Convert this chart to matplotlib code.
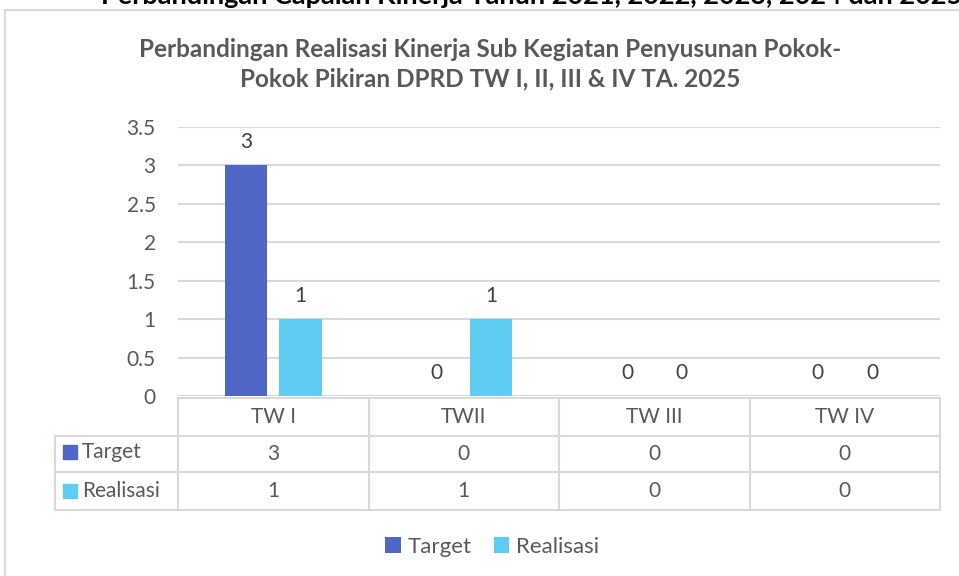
import matplotlib
matplotlib.use('Agg')
import matplotlib.pyplot as plt
import matplotlib.transforms as mtransforms
from matplotlib.patches import Rectangle
import numpy as np

plt.rcParams['font.family'] = ['Lato', 'DejaVu Sans']

# data
categories = ['TW I', 'TWII', 'TW III', 'TW IV']
series_names = ['Target', 'Realisasi']
target = [3, 0, 0, 0]
realisasi = [1, 1, 0, 0]
yticks = [0, 0.5, 1, 1.5, 2, 2.5, 3, 3.5]
ytick_labels = ['0', '0.5', '1', '1.5', '2', '2.5', '3', '3.5']

title = 'Perbandingan Realisasi Kinerja Sub Kegiatan Penyusunan Pokok-\nPokok Pikiran DPRD TW I, II, III & IV TA. 2025'
top_title = 'Perbandingan Capaian Kinerja Tahun 2021, 2022, 2023, 2024 dan 2025'

c_target = '#4f66c6'
c_real = '#5fcdf3'
grid_c = '#d9d9d9'
txt_c = '#595959'
lbl_c = '#404040'
fs = 15

W, H = 959, 576
fig = plt.figure(figsize=(W / 100, H / 100), dpi=100)
fig.patch.set_facecolor('white')

# chart area frame (cut off at the right/bottom)
fig.patches.append(Rectangle((5 / W, -0.1), 1.2, 1 - 10 / H + 0.1, transform=fig.transFigure,
                             fill=False, edgecolor=grid_c, linewidth=1.5))

fig.text(101 / W, 1 - 4 / H, top_title, fontsize=19.5, fontweight='bold', color='black',
         ha='left', va='baseline')

# plot area
x0, x1, ytop, ybot = 178, 940, 127, 396
ax = fig.add_axes([x0 / W, 1 - ybot / H, (x1 - x0) / W, (ybot - ytop) / H])
x = np.arange(len(categories))
bw = 0.225
off = 0.143
b1 = ax.bar(x - off, target, bw, color=c_target, label=series_names[0], zorder=3)
b2 = ax.bar(x + off, realisasi, bw, color=c_real, label=series_names[1], zorder=3)
for bars in (b1, b2):
    for r in bars:
        ax.text(r.get_x() + r.get_width() / 2, r.get_height() + 0.17, f'{r.get_height():g}',
                ha='center', va='bottom', fontsize=fs, color=lbl_c)

ax.set_xlim(-0.5, len(categories) - 0.5)
ax.set_ylim(0, 3.5)
ax.set_yticks(yticks)
ax.set_yticklabels(ytick_labels, fontsize=fs, color=txt_c)
ax.tick_params(axis='y', length=0, pad=16)
ax.set_xticks([])
ax.grid(axis='y', color=grid_c, linewidth=1.5, zorder=0)
for s in ax.spines.values():
    s.set_visible(False)

fig.text(490 / W, 1 - 64 / H, title, ha='center', va='center', fontsize=17.5,
         fontweight='bold', color=txt_c, linespacing=1.35)

# data table under the axis
tr = mtransforms.blended_transform_factory(ax.transData, ax.transAxes)
ph = ybot - ytop
def ya(py):
    return (ybot - py) / ph
cw = (x1 - x0) / len(categories)
left_x = -0.5 - (x0 - 55) / cw
rows_y = [398, 436, 472, 510]
lkw = dict(color=grid_c, linewidth=1.5, transform=tr, clip_on=False)
ax.plot([-0.5, len(categories) - 0.5], [ya(rows_y[0])] * 2, **lkw)
for py in rows_y[1:]:
    ax.plot([left_x, len(categories) - 0.5], [ya(py)] * 2, **lkw)
ax.plot([left_x, left_x], [ya(rows_y[1]), ya(rows_y[3])], **lkw)
for xe in np.arange(len(categories) + 1) - 0.5:
    ax.plot([xe, xe], [ya(rows_y[0]), ya(rows_y[3])], **lkw)

for i, c in enumerate(categories):
    ax.text(i, ya(417), c, transform=tr, ha='center', va='center', fontsize=fs, color=txt_c)
    ax.text(i, ya(454), f'{target[i]:g}', transform=tr, ha='center', va='center', fontsize=fs, color=txt_c)
    ax.text(i, ya(491), f'{realisasi[i]:g}', transform=tr, ha='center', va='center', fontsize=fs, color=txt_c)

for name, col, cy in [(series_names[0], c_target, 452), (series_names[1], c_real, 491)]:
    fig.patches.append(Rectangle((63 / W, 1 - (cy + 7) / H), 14 / W, 14 / H,
                                 transform=fig.transFigure, color=col))
    fig.text(82 / W, 1 - cy / H, name, ha='left', va='center', fontsize=fs, color=txt_c)

leg = fig.legend(handles=[b1, b2], loc='center', bbox_to_anchor=(492 / W, 1 - 547 / H),
                 ncol=2, frameon=False, fontsize=16, handlelength=0.7, handleheight=0.7,
                 handletextpad=0.3, columnspacing=1.0, labelcolor=txt_c)

fig.savefig('out.png', dpi=100, facecolor='white')
